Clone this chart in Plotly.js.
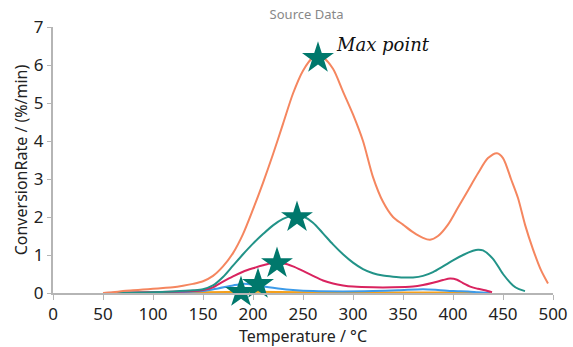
<!DOCTYPE html>
<html>
<head>
<meta charset="utf-8">
<script src="https://cdn.plot.ly/plotly-3.0.1.min.js"></script>
<style>html,body{margin:0;padding:0;background:#fff;}#chart{width:573px;height:347px;}</style>
</head>
<body>
<div id="chart"></div>
<script>
const orangeX = [50,60,70,80,90,100,110,120,130,140,150,160,170,180,190,200,210,220,230,240,250,260,265,270,280,290,300,310,320,330,340,350,360,370,377,385,395,405,415,425,435,444,450,458,465,472,480,488,495];
const orangeY = [0,0.02,0.05,0.07,0.09,0.11,0.13,0.15,0.19,0.24,0.31,0.45,0.7,1.05,1.55,2.2,2.9,3.65,4.45,5.25,5.85,6.2,6.25,6.2,5.9,5.3,4.7,4.0,3.05,2.4,2.0,1.8,1.6,1.45,1.4,1.5,1.8,2.25,2.7,3.15,3.55,3.68,3.55,3.0,2.5,1.8,1.15,0.6,0.25];

const tealX = [50,100,120,140,150,160,170,180,190,200,210,220,230,240,245,250,260,270,280,290,300,310,320,330,340,350,360,370,380,390,400,410,420,425,430,440,450,460,466,472];
const tealY = [0,0.02,0.04,0.07,0.1,0.2,0.42,0.72,1.02,1.3,1.55,1.78,1.95,2.04,2.05,2.02,1.85,1.57,1.28,1.02,0.8,0.63,0.52,0.46,0.43,0.41,0.41,0.45,0.55,0.7,0.86,1.0,1.11,1.14,1.12,0.9,0.5,0.2,0.1,0.05];

const redX = [50,100,140,150,160,170,180,190,200,210,220,230,240,250,260,270,280,290,300,320,340,360,370,380,390,397,404,410,418,425,432,439];
const redY = [0,0.02,0.05,0.08,0.15,0.3,0.44,0.56,0.65,0.73,0.79,0.78,0.7,0.58,0.45,0.33,0.25,0.2,0.17,0.15,0.15,0.17,0.21,0.27,0.34,0.38,0.35,0.26,0.16,0.11,0.07,0.02];

const blueX = [50,100,150,165,180,190,200,210,225,240,260,290,320,345,370,385,400,415,425,437];
const blueY = [0,0.01,0.05,0.12,0.2,0.24,0.22,0.17,0.12,0.08,0.05,0.04,0.05,0.07,0.1,0.08,0.05,0.04,0.02,0];

const amberX = [50,100,150,200,250,300,350,400,427];
const amberY = [0,0.01,0.02,0.03,0.02,0.02,0.01,0.01,0];

const starX = [188,205,224,244,265];
const starY = [0.02,0.23,0.78,1.99,6.18];

const annText = "Max point";
const annX = 281;
const annY = 6.55;

function line(x, y, color) {
  return {x: x, y: y, type: 'scatter', mode: 'lines',
    line: {color: color, width: 2, shape: 'spline', smoothing: 0.8},
    hoverinfo: 'skip', showlegend: false, cliponaxis: false};
}

const data = [
  line(amberX, amberY, '#f5a01a'),
  line(blueX, blueY, '#3d9be9'),
  line(redX, redY, '#d9235f'),
  line(tealX, tealY, '#229388'),
  line(orangeX, orangeY, '#f5865f'),
  {x: starX, y: starY, type: 'scatter', mode: 'markers',
   marker: {symbol: 'star', size: 24, color: '#00786c', line: {width: 0}},
   showlegend: false, cliponaxis: false}
];

const fam = 'Noto Sans, Open Sans, sans-serif';
const tickFont = {family: fam, size: 17, color: '#222'};

const layout = {
  width: 573, height: 347,
  margin: {l: 53, r: 20, t: 27, b: 54},
  paper_bgcolor: '#fff', plot_bgcolor: '#fff',
  title: {text: 'Source Data', font: {family: fam, size: 13, color: '#888'},
          x: 0.535, xanchor: 'center', y: 0.957, yanchor: 'middle'},
  xaxis: {range: [0, 500], tickvals: [0,50,100,150,200,250,300,350,400,450,500],
          showgrid: false, zeroline: false, showline: true, linecolor: '#b5b5b5', linewidth: 2,
          ticks: 'outside', ticklen: 5, tickcolor: '#b5b5b5', tickwidth: 1,
          tickfont: tickFont,
          title: {text: 'Temperature / °C', font: {family: fam, size: 16, color: '#222'}, standoff: 0}},
  yaxis: {range: [0, 7], tickvals: [0,1,2,3,4,5,6,7],
          showgrid: false, zeroline: false, showline: true, linecolor: '#b5b5b5', linewidth: 2,
          ticks: 'outside', ticklen: 4, tickcolor: '#b5b5b5', tickwidth: 1,
          tickfont: tickFont,
          title: {text: 'ConversionRate / (%/min)', font: {family: fam, size: 16, color: '#222'}, standoff: 2}},
  annotations: [{x: annX, y: annY, xref: 'x', yref: 'y', text: '<i>' + annText + '</i>', showarrow: false,
                 xanchor: 'left', yanchor: 'middle',
                 font: {family: 'DejaVu Serif, Liberation Serif, serif', size: 18, color: '#111'}}]
};

Plotly.newPlot('chart', data, layout, {displayModeBar: false, staticPlot: true});
</script>
</body>
</html>
